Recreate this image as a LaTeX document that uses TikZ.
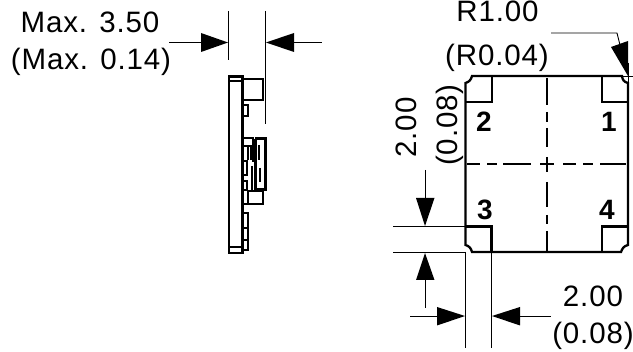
\documentclass[tikz,border=0pt]{standalone}
\usepackage{fontspec}
\setmainfont{Liberation Sans}
\tikzset{
 dimline/.style={line width=0.9pt,black},
 outline/.style={line width=2.3pt,black},
 thin outline/.style={line width=1.7pt,black},
 center line/.style={line width=2.4pt,black},
 tiphead/.style={fill=black,draw=none},
 dimtext/.style={inner sep=0pt,anchor=base,font=\fontsize{29.5}{30}\selectfont\addfontfeature{LetterSpace=3}},
 padnum/.style={inner sep=0pt,anchor=base,font=\fontsize{28}{28}\selectfont\bfseries}
}
\begin{document}
\begin{tikzpicture}[x=1pt,y=-1pt]
\useasboundingbox (0,0) rectangle (633,352);
\fill[white] (0,0) rectangle (633,352);
% side view
\draw[outline] (229,76.5) rectangle (242.5,253);
\draw[thin outline] (229,81) -- (242.5,81) (229,247) -- (242.5,247);
\draw[outline] (243,79) -- (263,79) -- (263,100) -- (243,100);
\draw[thin outline] (243,105) -- (248,105) -- (248,116) -- (243,116);
\draw[outline] (243,138) -- (253,138) -- (253,162) (243,146) -- (253,146);
\draw[line width=3pt] (255,139) -- (255,190);
\draw[line width=3pt] (255,139) -- (265,139) -- (265,190) -- (255,190);
\draw[thin outline] (248,146) -- (248,160) (251,146) -- (251,160) (252,166) -- (252,192);
\draw[thin outline] (259,145) -- (259,160) (260,168) -- (260,182);
\draw[outline] (243,161) -- (247,161) -- (247,175) -- (243,175);
\draw[outline] (243,181) -- (247,181) -- (247,190) -- (243,190);
\draw[outline] (248,191) -- (263,191) -- (263,204) -- (243,204);
\draw[thin outline] (248,191) -- (248,204);
\draw[thin outline] (243,213) -- (248,213) -- (248,250) -- (243,250);
\draw[thin outline] (243,228) -- (248,228) (243,240) -- (248,240);
% side view dimensions
\coordinate (sl1) at (228.5,11); \coordinate (sl2) at (228.5,60);
\coordinate (sr1) at (265.5,11); \coordinate (sr2) at (265.5,124);
\draw[dimline] (sl1) -- (sl2) (sr1) -- (sr2);
\coordinate (al) at (169,42.5); \coordinate (ar) at (322,42.5);
\draw[dimline] (al) -- (202,42.5) (294,42.5) -- (ar);
\fill[tiphead] (228,42.5) -- (201,33) -- (201,52) -- cycle;
\fill[tiphead] (266,42.5) -- (294,33) -- (294,52) -- cycle;
\node[dimtext] (t1) at (90,32.5) {Max. 3.50};
\node[dimtext] (t2) at (91,70) {(Max. 0.14)};
% front view
\draw[outline] (472,76) -- (622,76)
  .. controls (622.5,80) and (624,82) .. (628,83)
  -- (628,245) .. controls (624,246) and (622.5,248) .. (621,252)
  -- (472,252) .. controls (471,248) and (469,246) .. (465.5,245)
  -- (465.5,83) .. controls (469,82) and (471,80) .. (472,76) -- cycle;
\draw[outline] (492,76) -- (492,102) -- (465.5,102);
\draw[outline] (602,76) -- (602,102) -- (628,102);
\draw[outline] (465.5,226.5) -- (491.5,226.5) -- (491.5,252);
\draw[outline] (628,226.5) -- (602,226.5) -- (602,252);
% centre lines
\draw[center line] (547,78) -- (547,105) (547,112) -- (547,122) (547,128) -- (547,147) (547,157) -- (547,172)
 (547,182) -- (547,207) (547,215) -- (547,224) (547,231) -- (547,252);
\draw[center line] (467,164.3) -- (480,164.3) (487,164.3) -- (497,164.3) (503,164.3) -- (531,164.3) (540,164.3) -- (554,164.3) (563,164.3) -- (576,164.3) (583,164.3) -- (593,164.3) (600,164.3) -- (626,164.3);
% pad numbers
\node[padnum] (n2) at (484,132) {2};
\node[padnum] (n1) at (609,132) {1};
\node[padnum] (n3) at (485,220) {3};
\node[padnum] (n4) at (607,220) {4};
% radius leader
\coordinate (r0) at (551,33); \coordinate (r1) at (617,33); \coordinate (r2) at (620,45);
\draw[dimline] (r0) -- (r1) -- (r2);
\fill[tiphead] (628,76) -- (611,47) -- (628,41) -- cycle;
\draw[dimline] (628.5,63) -- (628.5,86) (620,76.5) -- (633,76.5);
\node[dimtext] (t3) at (497.5,21.5) {R1.00};
\node[dimtext] (t4) at (497,66) {(R0.04)};
% left vertical dimension
\draw[dimline] (393,226.7) -- (466,226.7) (393,252.5) -- (466,252.5);
\draw[dimline] (425,170) -- (425,199) (425,279) -- (425,308);
\fill[tiphead] (425,226) -- (416,198) -- (434.5,198) -- cycle;
\fill[tiphead] (425,253) -- (416,280) -- (434.5,280) -- cycle;
\node[dimtext,rotate=90] (t5) at (416,127.5) {2.00};
\node[dimtext,rotate=90] (t6) at (457,125) {(0.08)};
% bottom dimension
\draw[dimline] (465.5,252) -- (465.5,348) (491.5,252) -- (491.5,348);
\draw[dimline] (410,316) -- (438,316) (520,316) -- (551,316);
\fill[tiphead] (465,316) -- (437,307) -- (437,325.5) -- cycle;
\fill[tiphead] (492,316) -- (520,307) -- (520,325.5) -- cycle;
\node[dimtext] (t7) at (593,306.5) {2.00};
\node[dimtext] (t8) at (593,343.5) {(0.08)};
\end{tikzpicture}
\end{document}
